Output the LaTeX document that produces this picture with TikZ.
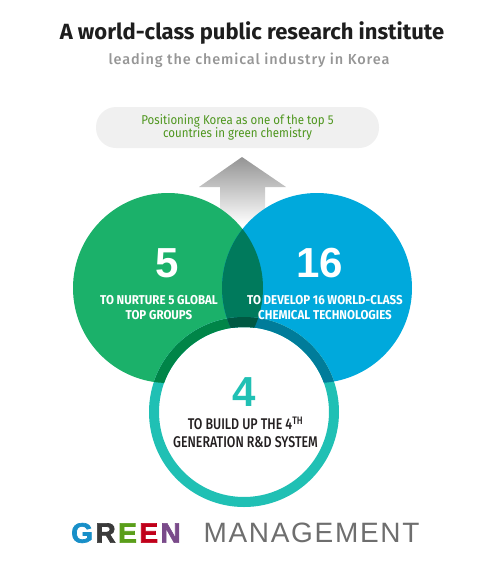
\documentclass[tikz,border=0pt]{standalone}
\usepackage{fontspec}
\setmainfont{Fira Sans}
\newfontfamily\subfont[LetterSpace=6]{Fira Sans Medium}
\newfontfamily\dinfont[FakeStretch=0.9]{Fira Sans}
\newfontfamily\narrowfont[FakeStretch=0.8]{Fira Sans Medium}
\newfontfamily\logofont{Liberation Sans}
\newfontfamily\logoheavy[FakeBold=2.5]{Liberation Sans Bold}
\newfontfamily\logolight[LetterSpace=6]{Liberation Sans}
\newcommand\logoletter[2]{{\color{#1}#2}\kern2.5pt}
\usetikzlibrary{positioning, shapes.geometric}

\definecolor{titleblack}{RGB}{30,30,30}
\definecolor{subgray}{RGB}{150,150,150}
\definecolor{pillgray}{RGB}{240,240,240}
\definecolor{pilltext}{RGB}{78,150,30}
\definecolor{groupgreen}{RGB}{27,177,106}
\definecolor{techblue}{RGB}{0,169,220}
\definecolor{lensgreen}{RGB}{0,122,92}
\definecolor{ringteal}{RGB}{32,192,180}
\definecolor{ringgreen}{RGB}{0,133,72}
\definecolor{ringblue}{RGB}{0,124,154}
\definecolor{ringdark}{RGB}{0,88,66}
\definecolor{basetext}{RGB}{35,31,32}
\definecolor{logoG}{RGB}{24,143,200}
\definecolor{logoR}{RGB}{58,58,58}
\definecolor{logoE}{RGB}{90,158,26}
\definecolor{logoEE}{RGB}{192,0,26}
\definecolor{logoN}{RGB}{122,74,138}
\definecolor{logogray}{RGB}{110,110,110}

\begin{document}
\begin{tikzpicture}[x=1pt, y=-1pt,
  bigcircle/.style={circle, minimum size=190pt, inner sep=0pt},
  bignum/.style={font=\logofont\bfseries\fontsize{42}{42}\selectfont},
  goaltext/.style={font=\dinfont\bfseries\fontsize{12.8}{15}\selectfont, text=white, align=center}]
	\useasboundingbox (0,0) rectangle (498,565);

	% --- Heading ---
	\node[font=\bfseries\fontsize{22}{26}\selectfont, text=titleblack] (title) at (252,33) {A world-class public research institute};
	\node[font=\subfont\fontsize{14.5}{17}\selectfont, text=subgray] (subtitle) at (249,60) {leading the chemical industry in Korea};

	% --- Goal ---
	\node[rectangle, rounded corners=20pt, fill=pillgray, minimum width=283pt, minimum height=41pt, align=center, text=pilltext, font=\dinfont\fontsize{12.8}{13.5}\selectfont] (goal) at (237.5,127.5) {Positioning Korea as one of the top 5\\countries in green chemistry};

	% arrow up to the goal
	\path[top color=black!42, bottom color=white] (242,157) -- (286,187) -- (265,187) -- (265,225) -- (220,225) -- (220,187) -- (199,187) -- cycle;

	% --- Circles ---
	\node[bigcircle, fill=groupgreen] (groups) at (168,288) {};
	\node[bigcircle, fill=techblue] (techs) at (317,288) {};
	\begin{scope}
		\clip (groups.center) circle (95);
		\fill[lensgreen] (techs.center) circle (95);
	\end{scope}

	% R&D system circle
	\node[bigcircle, fill=white] (system) at (244,412) {};
	\draw[ringteal, line width=10pt] (system.center) circle (90);
	\begin{scope}
		\clip (groups.center) circle (95);
		\draw[ringgreen, line width=10pt] (system.center) circle (90);
	\end{scope}
	\begin{scope}
		\clip (techs.center) circle (95);
		\draw[ringblue, line width=10pt] (system.center) circle (90);
		\clip (groups.center) circle (95);
		\draw[ringdark, line width=10pt] (system.center) circle (90);
	\end{scope}

	% --- Labels ---
	\node[bignum, text=white] (groupsnum) at (167,263) {5};
	\node[goaltext] (groupstext) at (159,307.5) {TO NURTURE 5 GLOBAL\\TOP GROUPS};
	\node[bignum, text=white] (techsnum) at (320,263) {16};
	\node[goaltext] (techstext) at (325,307.5) {TO DEVELOP 16 WORLD-CLASS\\CHEMICAL TECHNOLOGIES};
	\node[bignum, text=ringteal] (systemnum) at (244.5,392) {4};
	\node[font=\narrowfont\fontsize{15.5}{18}\selectfont, text=basetext, align=center] (systemtext) at (245.5,432) {TO BUILD UP THE 4\textsuperscript{TH}\\GENERATION R\&D SYSTEM};

	% --- Logo ---
	\node[font=\logoheavy\fontsize{28}{28}\selectfont, inner sep=0pt] (logogreen) at (126,533) {\logoletter{logoG}{G}\logoletter{logoR}{R}\logoletter{logoE}{E}\logoletter{logoEE}{E}{\color{logoN}N}};
	\node[font=\logolight\fontsize{28}{28}\selectfont, text=logogray] (logomgmt) at (311.5,533) {MANAGEMENT};
\end{tikzpicture}
\end{document}
